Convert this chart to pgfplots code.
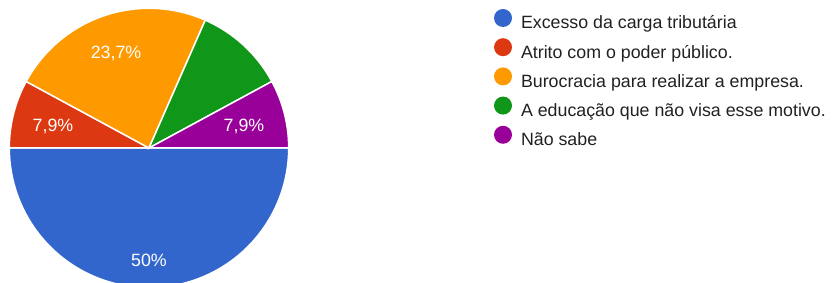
\documentclass[border=0pt]{standalone}
\usepackage{pgfplots}
\pgfplotsset{compat=1.18}
\usepackage{fontspec}
\setmainfont{Liberation Sans}
\definecolor{gblue}{HTML}{3366CC}
\definecolor{gred}{HTML}{DC3912}
\definecolor{gorange}{HTML}{FF9900}
\definecolor{ggreen}{HTML}{109618}
\definecolor{gpurple}{HTML}{990099}
\definecolor{gtext}{HTML}{212121}
% slice shares in percent
\def\vA{50}\def\vB{7.9}\def\vC{23.7}\def\vD{10.5}\def\vE{7.9}
% cumulative angles, clockwise from 3 o'clock
\pgfmathsetmacro\aA{0}
\pgfmathsetmacro\aB{\aA-3.6*\vA}
\pgfmathsetmacro\aC{\aB-3.6*\vB}
\pgfmathsetmacro\aD{\aC-3.6*\vC}
\pgfmathsetmacro\aE{\aD-3.6*\vD}
\pgfmathsetmacro\aF{\aE-3.6*\vE}
\def\R{139.7}
\begin{document}
\begin{tikzpicture}
\begin{axis}[
  at={(0,0)}, anchor=south west,
  scale only axis, width=840pt, height=283pt,
  xmin=-149, xmax=691, ymin=-135, ymax=148,
  hide axis, clip=true,
  legend cell align=left,
  legend image code/.code={\fill[#1,draw=none] (0pt,6.4pt) circle (9pt);},
  legend style={at={(axis cs:345,139)}, anchor=north west, draw=none, fill=none,
    font=\fontsize{17.8pt}{20pt}\selectfont, text=gtext,
    inner sep=0pt, outer sep=0pt, column sep=9pt, row sep=5.3pt,
    nodes={inner sep=0pt, text height=13pt, text depth=4pt}},
]
\addplot[fill=gblue, draw=white, line width=1.5pt, data cs=polar, domain=\aB:\aA, samples=121] ({x},{\R}) -- (axis cs:0,0) -- cycle;
\addlegendentry{Excesso da carga tributária}
\addplot[fill=gred, draw=white, line width=1.5pt, data cs=polar, domain=\aC:\aB, samples=25] ({x},{\R}) -- (axis cs:0,0) -- cycle;
\addlegendentry{Atrito com o poder público.}
\addplot[fill=gorange, draw=white, line width=1.5pt, data cs=polar, domain=\aD:\aC, samples=61] ({x},{\R}) -- (axis cs:0,0) -- cycle;
\addlegendentry{Burocracia para realizar a empresa.}
\addplot[fill=ggreen, draw=white, line width=1.5pt, data cs=polar, domain=\aE:\aD, samples=31] ({x},{\R}) -- (axis cs:0,0) -- cycle;
\addlegendentry{A educação que não visa esse motivo.}
\addplot[fill=gpurple, draw=white, line width=1.5pt, data cs=polar, domain=\aF:\aE, samples=25] ({x},{\R}) -- (axis cs:0,0) -- cycle;
\addlegendentry{Não sabe}
\node[text=white, font=\fontsize{17.8pt}{20pt}\selectfont] at (axis cs:-33,95) {23,7\%};
\node[text=white, font=\fontsize{17.8pt}{20pt}\selectfont] at (axis cs:-96,22) {7,9\%};
\node[text=white, font=\fontsize{17.8pt}{20pt}\selectfont] at (axis cs:95,22) {7,9\%};
\node[text=white, font=\fontsize{17.8pt}{20pt}\selectfont] at (axis cs:0,-112) {50\%};
\end{axis}
\pgfresetboundingbox
\path[use as bounding box] (0,0) rectangle (840pt,283pt);
\end{tikzpicture}
\end{document}
